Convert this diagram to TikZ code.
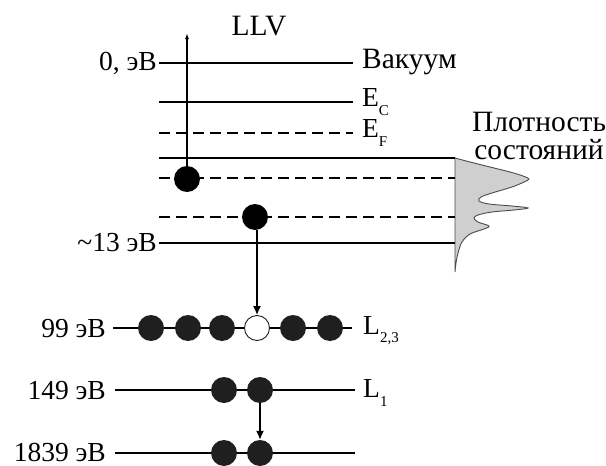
\documentclass[tikz,border=0pt]{standalone}
\usepackage{fontspec}
\setmainfont{Liberation Serif}
\usetikzlibrary{arrows.meta}
\begin{document}
\begin{tikzpicture}[x=1pt,y=-1pt,
  lvl/.style={line width=1.6pt},
  dlvl/.style={line width=1.6pt, dash pattern=on 11pt off 6pt},
  elec/.style={circle, fill=black, minimum size=26pt, inner sep=0pt},
  elecb/.style={circle, fill=black!88, minimum size=26pt, inner sep=0pt},
  hole/.style={circle, draw=black!88, fill=white, minimum size=25pt, inner sep=0pt, line width=0.9pt},
  lab/.style={font=\fontsize{27.5}{28}\selectfont, inner sep=0pt},
  labr/.style={font=\fontsize{29.5}{28}\selectfont, inner sep=0pt},
  conn/.style={line width=1.4pt, -{Latex[length=9pt,width=8pt]}},
  dos/.style={fill=black!19, draw=black!70, line width=0.9pt}
]
\useasboundingbox (0,0) rectangle (606,466);

% density of states
\draw[dos] plot[smooth, tension=0.55] coordinates {
 (455,158) (470,162) (490,167) (510,172) (523,176) (529,179) (524,182) (512,187)
 (492,193) (481,197) (479,201) (489,204) (512,206) (528,208) (514,210) (492,212)
 (478,215) (474,218) (478,222) (489,226) (484,229) (470,234) (462,242) (458,253)
 (456,263) (455,272)} -- cycle;

% upper levels
\node[lab, anchor=east] (zero) at (157,63) {0, эВ};
\node[labr, anchor=west] (vac) at (362,62) {Вакуум};
\draw[lvl] (159,63) -- (353,63);
\draw[lvl] (159,102) -- (353,102);
\node[lab, anchor=west] (ec) at (362,102) {E\raisebox{-0.3em}{\fontsize{15}{15}\selectfont C}};
\draw[dlvl] (159,133) -- (353,133);
\node[lab, anchor=west] (ef) at (362,133) {E\raisebox{-0.3em}{\fontsize{15}{15}\selectfont F}};

% band
\draw[lvl] (159,158) -- (455,158);
\draw[dlvl] (159,178) -- (455,178);
\draw[dlvl] (159,217) -- (455,217);
\draw[lvl] (159,243) -- (455,243);
\node[lab, anchor=east] (m13) at (157,243) {\textasciitilde13 эВ};

\node[labr, align=center] (dostxt) at (539,136) {Плотность\\состояний};
\node[labr] (llv) at (259,26) {LLV};

% electrons in band
\node[elec] (b1) at (187,179) {};
\node[elec] (b2) at (255,217) {};
\coordinate (top) at (187,33);
\draw[line width=1.4pt, -{Latex[length=6pt,width=4pt]}] (b1.north) -- (top);

% core levels
\node[lab, anchor=east] (l99) at (106,329) {99 эВ};
\node[lab, anchor=east] (l149) at (106,391) {149 эВ};
\node[lab, anchor=east] (l1839) at (106,452) {1839 эВ};
\draw[lvl] (113,328) -- (352,328);
\draw[lvl] (115,390) -- (355,390);
\draw[lvl] (115,453) -- (355,453);
\node[lab, anchor=west] (l23) at (363,331) {L\raisebox{-0.3em}{\fontsize{15}{15}\selectfont 2,3}};
\node[lab, anchor=west] (l1) at (363,393) {L\raisebox{-0.3em}{\fontsize{15}{15}\selectfont 1}};

\node[elecb] (c1) at (151,328) {};
\node[elecb] (c2) at (188,328) {};
\node[elecb] (c3) at (222,328) {};
\node[hole]  (h)  at (257,328) {};
\node[elecb] (c5) at (293,328) {};
\node[elecb] (c6) at (330,328) {};

\node[elecb] (d1) at (224,390) {};
\node[elecb] (d2) at (260,390) {};
\node[elecb] (e1) at (224,453) {};
\node[elecb] (e2) at (260,453) {};

\draw[conn] (b2.south -| h.north) -- (h.north);
\draw[conn] (d2.south) -- (e2.north);
\end{tikzpicture}
\end{document}
